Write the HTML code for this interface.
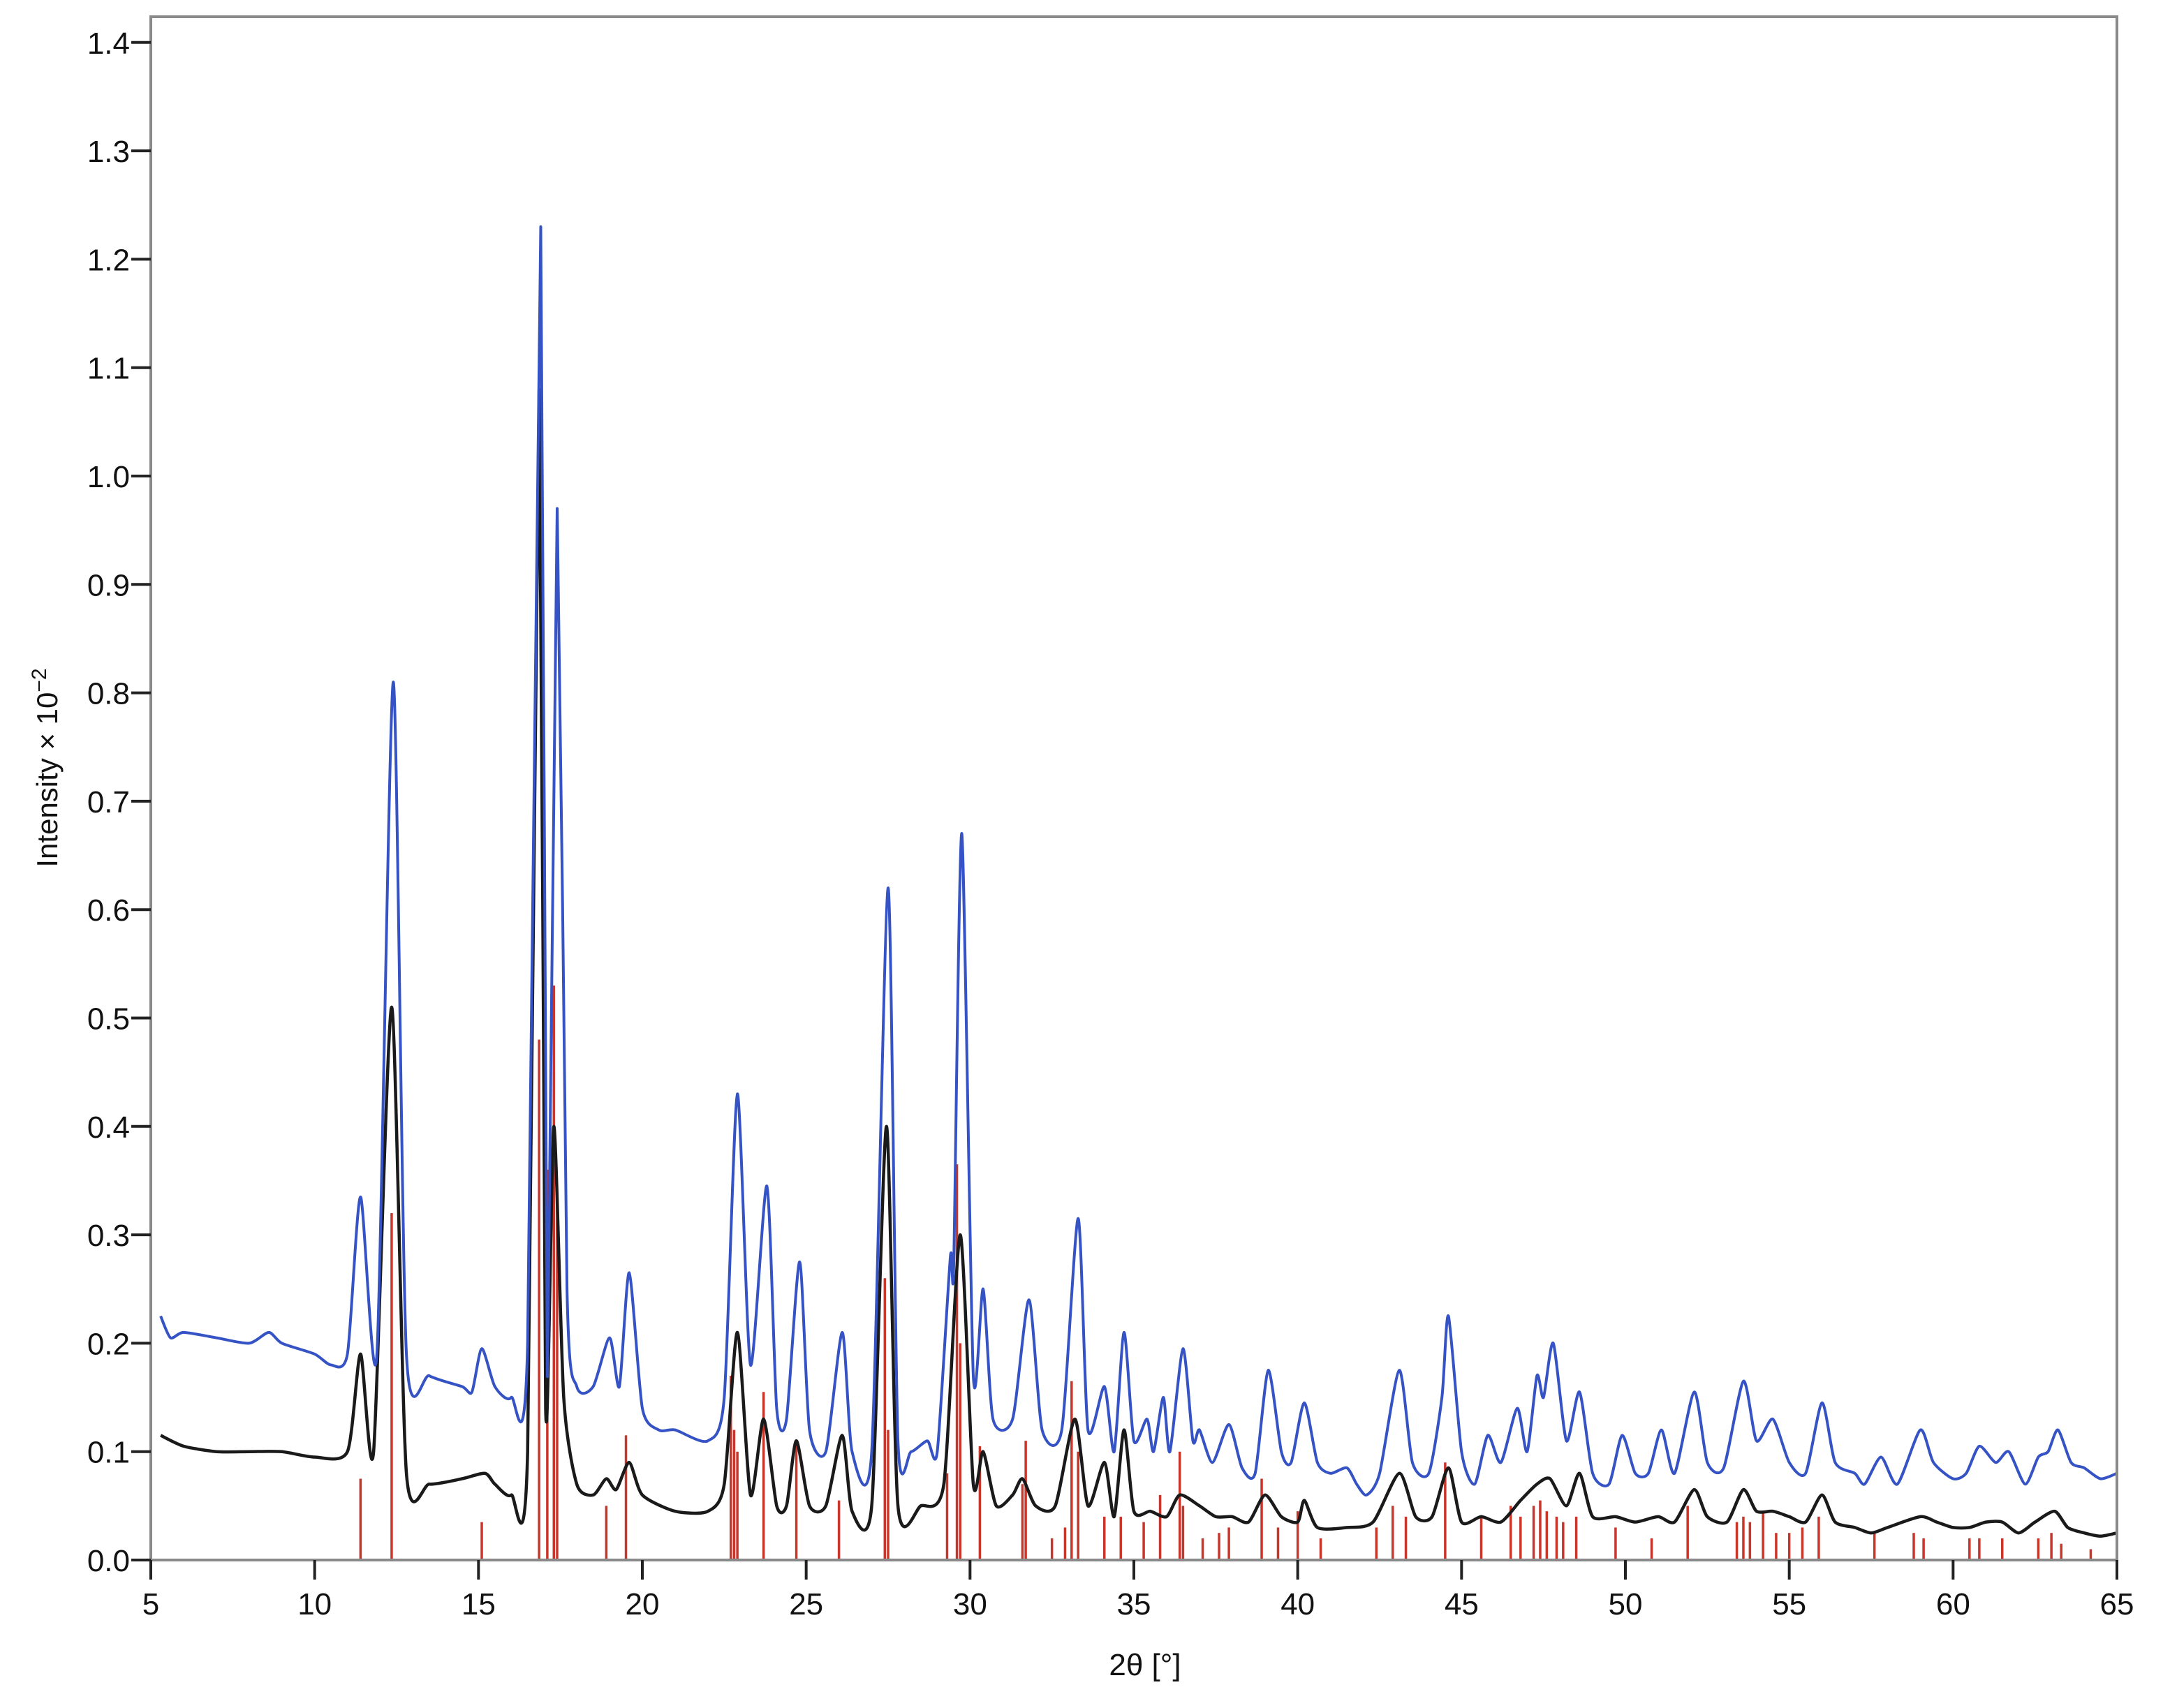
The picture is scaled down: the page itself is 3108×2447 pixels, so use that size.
<!DOCTYPE html>
<html><head><meta charset="utf-8">
<style>
html,body{margin:0;padding:0;background:#fff;}
svg{display:block;font-family:"Liberation Sans",Arial,sans-serif;}
</style></head>
<body>
<svg id="chart" width="3108" height="2447" viewBox="0 0 3108 2447" xmlns="http://www.w3.org/2000/svg">
<rect width="3108" height="2447" fill="#fff"/>
<g id="sticks"></g>
<g id="series"></g>
<g id="axes"></g>
</svg>
<script>
const xTicks=[5,10,15,20,25,30,35,40,45,50,55,60,65];
const yTicks=[0.0,0.1,0.2,0.3,0.4,0.5,0.6,0.7,0.8,0.9,1.0,1.1,1.2,1.3,1.4];
const blueX=[5.3,5.6,6,7,8,8.6,9,10,10.5,11,11.4,11.9,12.4,12.8,13.5,14.5,14.8,15.1,15.5,16,16.5,16.9,17.1,17.4,17.7,18,18.5,19,19.3,19.6,20,20.5,21,22,22.5,22.9,23.3,23.8,24.1,24.4,24.8,25.1,25.6,26.1,26.4,27,27.5,27.8,28.2,28.7,29,29.4,29.5,29.75,30.1,30.4,30.7,31.3,31.8,32.2,32.8,33.3,33.6,34.1,34.4,34.7,35,35.4,35.6,35.9,36.1,36.5,36.8,37,37.4,37.9,38.3,38.7,39.1,39.5,39.8,40.2,40.6,41,41.5,41.8,42.1,42.5,43.1,43.5,44,44.4,44.6,45,45.4,45.8,46.2,46.7,47,47.3,47.5,47.8,48.2,48.6,49,49.5,49.9,50.3,50.7,51.1,51.5,52.1,52.5,53,53.6,54,54.5,55,55.5,56,56.4,57,57.3,57.8,58.3,59,59.4,60,60.4,60.8,61.3,61.7,62.2,62.6,62.9,63.2,63.6,64,64.5,65];
const blueY=[0.225,0.205,0.21,0.205,0.2,0.21,0.2,0.19,0.18,0.19,0.335,0.19,0.81,0.19,0.17,0.16,0.155,0.195,0.16,0.15,0.2,1.23,0.17,0.97,0.25,0.16,0.16,0.205,0.16,0.265,0.14,0.12,0.12,0.11,0.15,0.43,0.18,0.345,0.14,0.13,0.275,0.12,0.1,0.21,0.1,0.1,0.62,0.11,0.1,0.11,0.1,0.28,0.27,0.67,0.17,0.25,0.13,0.13,0.24,0.12,0.12,0.315,0.12,0.16,0.1,0.21,0.11,0.13,0.1,0.15,0.1,0.195,0.11,0.12,0.09,0.125,0.085,0.08,0.175,0.1,0.09,0.145,0.09,0.08,0.085,0.07,0.06,0.08,0.175,0.09,0.08,0.15,0.225,0.1,0.07,0.115,0.09,0.14,0.1,0.17,0.15,0.2,0.11,0.155,0.08,0.07,0.115,0.08,0.08,0.12,0.08,0.155,0.09,0.085,0.165,0.11,0.13,0.09,0.08,0.145,0.09,0.08,0.07,0.095,0.07,0.12,0.09,0.075,0.08,0.105,0.09,0.1,0.07,0.095,0.1,0.12,0.09,0.085,0.075,0.08];
const blackX=[5.3,6,7,8,9,10,11,11.4,11.8,12.35,12.8,13.5,14.5,15.2,15.5,16,16.5,16.85,17.05,17.3,17.6,18,18.5,18.9,19.2,19.6,20,21,22,22.5,22.9,23.3,23.7,24.1,24.4,24.7,25.1,25.6,26.1,26.4,27,27.45,27.8,28.5,29.2,29.7,30.1,30.4,30.8,31.3,31.6,32,32.6,33.2,33.6,34.1,34.4,34.7,35,35.5,36,36.4,37,37.5,38,38.5,39,39.5,40,40.2,40.6,41.5,42.3,43.1,43.6,44.1,44.6,45,45.6,46.2,46.8,47.3,47.7,48.2,48.6,49,49.7,50.3,51,51.5,52.1,52.5,53.1,53.6,54,54.5,55,55.5,56,56.4,57,57.5,58,59,59.5,60,60.5,61,61.5,62,62.5,63.1,63.5,64,64.5,65];
const blackY=[0.115,0.105,0.1,0.1,0.1,0.095,0.1,0.19,0.1,0.51,0.08,0.07,0.075,0.08,0.07,0.06,0.1,1.08,0.14,0.4,0.15,0.07,0.06,0.075,0.065,0.09,0.06,0.045,0.045,0.07,0.21,0.06,0.13,0.05,0.05,0.11,0.05,0.05,0.115,0.045,0.05,0.4,0.05,0.05,0.07,0.3,0.07,0.1,0.05,0.06,0.075,0.05,0.05,0.13,0.05,0.09,0.04,0.12,0.045,0.045,0.04,0.06,0.05,0.04,0.04,0.035,0.06,0.04,0.035,0.055,0.03,0.03,0.035,0.08,0.04,0.04,0.085,0.035,0.04,0.035,0.055,0.07,0.075,0.05,0.08,0.04,0.04,0.035,0.04,0.035,0.065,0.04,0.035,0.065,0.045,0.045,0.04,0.035,0.06,0.035,0.03,0.025,0.03,0.04,0.035,0.03,0.03,0.035,0.035,0.025,0.035,0.045,0.03,0.025,0.022,0.025];
const stickX=[11.4,12.35,15.1,16.85,17.1,17.3,17.4,18.9,19.5,22.7,22.8,22.9,23.7,24.7,26.0,27.4,27.5,29.3,29.6,29.7,30.3,31.6,31.7,32.5,32.9,33.1,33.3,34.1,34.6,35.3,35.8,36.4,36.5,37.1,37.6,37.9,38.9,39.4,40.0,40.7,42.4,42.9,43.3,44.5,45.6,46.5,46.8,47.2,47.4,47.6,47.9,48.1,48.5,49.7,50.8,51.9,53.4,53.6,53.8,54.2,54.6,55.0,55.4,55.9,57.6,58.8,59.1,60.5,60.8,61.5,62.6,63.0,63.3,64.2];
const stickY=[0.075,0.32,0.035,0.48,0.36,0.53,0.33,0.05,0.115,0.17,0.12,0.1,0.155,0.11,0.055,0.26,0.12,0.08,0.365,0.2,0.105,0.07,0.11,0.02,0.03,0.165,0.1,0.04,0.04,0.035,0.06,0.1,0.05,0.02,0.025,0.03,0.075,0.03,0.045,0.02,0.03,0.05,0.04,0.09,0.04,0.05,0.04,0.05,0.055,0.045,0.04,0.035,0.04,0.03,0.02,0.05,0.035,0.04,0.035,0.045,0.025,0.025,0.03,0.04,0.025,0.025,0.02,0.02,0.02,0.02,0.02,0.025,0.015,0.01];

const NS='http://www.w3.org/2000/svg';
const X0=216,X1=3032,Y0=2235,Ytop=24;
const sx=v=>X0+(v-5)*(X1-X0)/60;
const sy=v=>Y0-v*1553;
function mk(tag,attrs,parent){const e=document.createElementNS(NS,tag);for(const k in attrs)e.setAttribute(k,attrs[k]);parent.appendChild(e);return e;}
const sticks=document.getElementById('sticks'),series=document.getElementById('series'),axes=document.getElementById('axes');

stickX.forEach((x,i)=>{
  const l=mk('line',{x1:sx(x),x2:sx(x),y1:Y0,y2:sy(stickY[i]),stroke:'#c8352a','stroke-width':3.5},sticks);
  
  
});
function path(xs,ys,color,w,name){
  const P=xs.map((x,i)=>[sx(x),sy(ys[i])]);
  let d='M'+P[0][0].toFixed(1)+' '+P[0][1].toFixed(1);
  const k=0.12;
  for(let i=0;i<P.length-1;i++){
    const p0=P[Math.max(0,i-1)],p1=P[i],p2=P[i+1],p3=P[Math.min(P.length-1,i+2)];
    const c1=[p1[0]+(p2[0]-p0[0])*k,p1[1]+(p2[1]-p0[1])*k];
    const c2=[p2[0]-(p3[0]-p1[0])*k,p2[1]-(p3[1]-p1[1])*k];
    d+=' C'+c1[0].toFixed(1)+' '+c1[1].toFixed(1)+' '+c2[0].toFixed(1)+' '+c2[1].toFixed(1)+' '+p2[0].toFixed(1)+' '+p2[1].toFixed(1);
  }
  const p=mk('path',{d:d,fill:'none',stroke:color,'stroke-width':w,'stroke-linejoin':'round'},series);
  
  
}
path(blackX,blackY,'#1a1a1a',4.5,'black-pattern-line');
path(blueX,blueY,'#3553c4',4,'blue-pattern-line');

const fr=mk('rect',{x:X0,y:Ytop,width:X1-X0,height:Y0-Ytop,fill:'none',stroke:'#8a8a8a','stroke-width':4},axes);


yTicks.forEach(v=>{
  const y=sy(v);
  const t=mk('line',{x1:188,x2:X0,y1:y,y2:y,stroke:'#222','stroke-width':4},axes);
  
  
  const tx=mk('text',{x:186,y:y+16,'text-anchor':'end','font-size':44,fill:'#111'},axes);
  tx.textContent=v.toFixed(1);
  
  
});
xTicks.forEach(v=>{
  const x=sx(v);
  const t=mk('line',{x1:x,x2:x,y1:Y0,y2:2263,stroke:'#222','stroke-width':4},axes);
  
  
  const tx=mk('text',{x:x,y:2313,'text-anchor':'middle','font-size':44,fill:'#111'},axes);
  tx.textContent=String(v);
  
  
});
const xt=mk('text',{x:1640,y:2400,'text-anchor':'middle','font-size':44,fill:'#111'},axes);
xt.textContent='2θ [°]';


const yt=mk('text',{x:0,y:0,'text-anchor':'middle','font-size':42,fill:'#111',transform:'translate(82,1100) rotate(-90)'},axes);
yt.innerHTML='Intensity × 10<tspan dy="-16" font-size="30">−2</tspan>';


</script>
</body></html>
